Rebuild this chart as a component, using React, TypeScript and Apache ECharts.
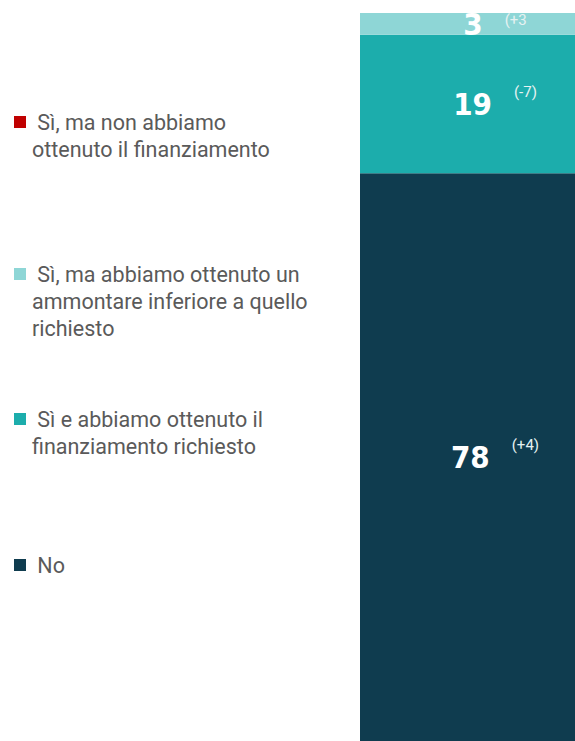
import React, { useEffect, useRef } from "react";
import * as echarts from "echarts";

const categories = ["Totale"];
const seriesNames = [
  "No",
  "Sì e abbiamo ottenuto il finanziamento richiesto",
  "Sì, ma abbiamo ottenuto un ammontare inferiore a quello richiesto",
  "Sì, ma non abbiamo ottenuto il finanziamento",
];
const legendLines = [
  " Sì, ma non abbiamo\nottenuto il finanziamento",
  " Sì, ma abbiamo ottenuto un\nammontare inferiore a quello\nrichiesto",
  " Sì e abbiamo ottenuto il\nfinanziamento richiesto",
  " No",
];
const values = [78, 19, 3, 0];
const deltas = ["(+4)", "(-7)", "(+3", ""];
const colors = ["#0F3C4F", "#1CADAC", "#8ED6D6", "#C00000"];
const legendColors = ["#C00000", "#8ED6D6", "#1CADAC", "#0F3C4F"];
const legendTops = [116, 268, 413, 559];

export default function App() {
  const ref = useRef<HTMLDivElement>(null);
  useEffect(() => {
    if (!ref.current) return;
    const chart = echarts.init(ref.current, undefined, { renderer: "svg" });
    const series = seriesNames.map((name, i) => ({
      name,
      type: "bar",
      stack: "tot",
      barWidth: "100%",
      data: [values[i]],
      itemStyle: { color: colors[i] },
      label: {
        show: values[i] > 0,
        position: "inside",
        offset: [25, 0],
        formatter: () => `{v|${values[i]}}{d|${deltas[i]}}`,
        rich: {
          v: {
            fontFamily: "'Liberation Sans Narrow', 'DejaVu Sans Condensed', Roboto, sans-serif",
            fontWeight: "bold",
            fontSize: 31,
            lineHeight: 40,
            color: "#ffffff",
          },
          d:
            i === 2
              ? {
                  fontFamily: "Roboto",
                  fontSize: 15,
                  lineHeight: 14,
                  verticalAlign: "middle",
                  color: "#E6F2F2",
                  padding: [0, 0, 8, 22],
                }
              : {
                  fontFamily: "Roboto",
                  fontSize: 15,
                  lineHeight: 14,
                  verticalAlign: "top",
                  color: "#E6F2F2",
                  padding: [0, 0, 0, 22],
                },
        },
      },
    }));
    const graphic: any[] = [];
    legendLines.forEach((t, i) => {
      graphic.push({
        type: "rect",
        shape: { x: 14, y: legendTops[i], width: 12, height: 12 },
        style: { fill: legendColors[i] },
      });
      graphic.push({
        type: "text",
        x: 32,
        y: legendTops[i] - 7,
        style: {
          text: t,
          font: "21.5px Roboto",
          lineHeight: 27,
          fill: "#5A5A5A",
          verticalAlign: "top",
        },
      });
    });
    chart.setOption({
      animation: false,
      grid: { left: 360, right: 0, top: 13, bottom: 0 },
      xAxis: { type: "category", data: categories, show: false },
      yAxis: { type: "value", min: 0, max: 100, show: false },
      series,
      graphic,
    });
    return () => chart.dispose();
  }, []);
  return (
    <div
      style={{
        position: "fixed",
        left: 0,
        top: 0,
        width: 575,
        height: 741,
        overflow: "hidden",
        background: "#ffffff",
      }}
    >
      <div ref={ref} style={{ width: 580, height: 741 }} />
    </div>
  );
}
